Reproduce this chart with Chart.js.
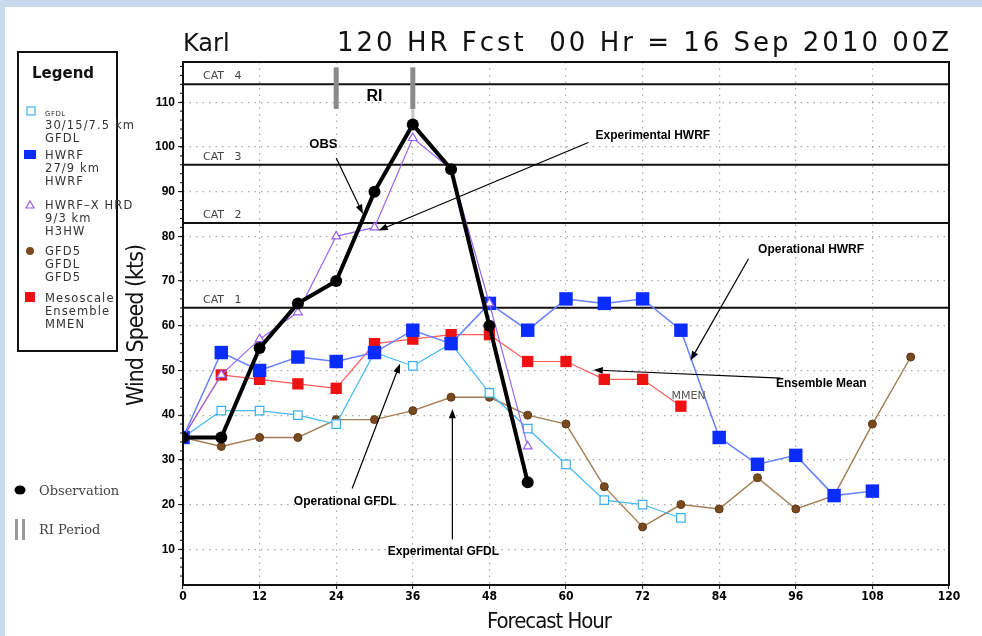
<!DOCTYPE html>
<html>
<head>
<meta charset="utf-8">
<script src="https://cdn.jsdelivr.net/npm/chart.js@4.4.1/dist/chart.umd.min.js"></script>
<style>
  html, body { margin: 0; padding: 0; background: #fff; }
  canvas { display: block; }
</style>
</head>
<body>
<canvas id="wind-chart" width="982" height="636"></canvas>
<script>
// forecast hours, every 6 h
const hours = [0, 6, 12, 18, 24, 30, 36, 42, 48, 54, 60, 66, 72, 78, 84, 90, 96, 102, 108, 114];

const obs  = [35, 35, 55, 65, 70, 90, 105, 95, 60, 25];
const hwrf = [35, 54, 50, 53, 52, 54, 59, 56, 65, 59, 66, 65, 66, 59, 35, 29, 31, 22, 23];
const gfdl = [35, 41, 41, 40, 38, 54, 51, 56, 45, 37, 29, 21, 20, 17];
const h3hw = [35, 49, 57, 63, 80, 82, 102, 95, 65, 33];
const gfd5 = [35, 33, 35, 35, 39, 39, 41, 44, 44, 40, 38, 24, 15, 20, 19, 26, 19, 22, 38, 53];
const mmen = [35, 49, 48, 47, 46, 56, 57, 58, 58, 52, 52, 48, 48, 42];

const xTicks = [0, 12, 24, 36, 48, 60, 72, 84, 96, 108, 120];
const xTickLabels = ["0", "12", "24", "36", "48", "60", "72", "84", "96", "108", "120"];
const yTicks = [10, 20, 30, 40, 50, 60, 70, 80, 90, 100, 110];

const catLevels = [64, 83, 96, 114];
const catLabels = ["CAT   1", "CAT   2", "CAT   3", "CAT   4"];
const riHours = [24, 36];

// callouts: text, text position, arrow start, arrow tip (hours, kts)
const notes = [
  { text: "OBS", at: [22.0, 100.5], from: [24.0, 97.5], to: [28.2, 85.0] },
  { text: "Experimental HWRF", at: [73.6, 102.5], from: [63.5, 101.0], to: [30.6, 81.3] },
  { text: "Operational HWRF", at: [98.4, 77.0], from: [88.6, 75.0], to: [79.5, 52.2] },
  { text: "Ensemble Mean", at: [100.0, 47.0], from: [93.6, 48.3], to: [64.3, 50.1] },
  { text: "Operational GFDL", at: [25.4, 20.6], from: [26.5, 23.6], to: [34.0, 51.5] },
  { text: "Experimental GFDL", at: [40.8, 9.5], from: [42.2, 12.2], to: [42.2, 41.4] }
];

function pts(vals) {
  return vals.map((v, i) => ({ x: hours[i], y: v }));
}

// spread text to a given width with letter spacing
function spacedText(ctx, text, x, y, w) {
  ctx.save();
  ctx.textAlign = "left";
  if ("letterSpacing" in ctx) {
    ctx.letterSpacing = "0px";
    const m = ctx.measureText(text).width;
    ctx.letterSpacing = ((w - m) / (text.length - 1)).toFixed(2) + "px";
    ctx.fillText(text, x, y);
  } else {
    const m = ctx.measureText(text).width;
    ctx.translate(x, y);
    ctx.scale(w / m, 1);
    ctx.fillText(text, 0, 0);
  }
  ctx.restore();
}

function arrow(ctx, x1, y1, x2, y2) {
  const a = Math.atan2(y2 - y1, x2 - x1);
  ctx.beginPath();
  ctx.moveTo(x1, y1);
  ctx.lineTo(x2 - 6 * Math.cos(a), y2 - 6 * Math.sin(a));
  ctx.stroke();
  ctx.beginPath();
  ctx.moveTo(x2, y2);
  ctx.lineTo(x2 - 10 * Math.cos(a - 0.35), y2 - 10 * Math.sin(a - 0.35));
  ctx.lineTo(x2 - 10 * Math.cos(a + 0.35), y2 - 10 * Math.sin(a + 0.35));
  ctx.closePath();
  ctx.fill();
}

const background = {
  id: "background",
  beforeDraw(chart) {
    const c = chart.ctx;
    c.save();
    c.fillStyle = "#fff";
    c.fillRect(0, 0, chart.width, chart.height);
    c.fillStyle = "#c9daee";
    c.fillRect(0, 0, chart.width, 7);
    c.fillRect(0, 0, 5, chart.height);
    c.restore();
  }
};

const overlays = {
  id: "overlays",
  beforeDatasetsDraw(chart) {
    const c = chart.ctx, xs = chart.scales.x, ys = chart.scales.y, a = chart.chartArea;
    c.save();
    // category lines
    c.strokeStyle = "#111";
    c.lineWidth = 2;
    c.font = "11px 'DejaVu Sans', sans-serif";
    c.fillStyle = "#444";
    catLevels.forEach((lv, i) => {
      const y = ys.getPixelForValue(lv);
      c.beginPath();
      c.moveTo(a.left, y);
      c.lineTo(a.right, y);
      c.stroke();
      c.fillText(catLabels[i], a.left + 20, y - 5);
    });
    // RI period bars
    c.fillStyle = "#8a8a8a";
    riHours.forEach(h => {
      const x = xs.getPixelForValue(h);
      const top = ys.getPixelForValue(117.8);
      c.fillRect(x - 2.5, top, 5, ys.getPixelForValue(108.5) - top);
    });
    c.fillStyle = "#c8c8c8";
    const x36 = xs.getPixelForValue(riHours[1]);
    c.fillRect(x36 - 1.5, ys.getPixelForValue(108.5), 3, ys.getPixelForValue(104.5) - ys.getPixelForValue(108.5));
    c.fillStyle = "#000";
    c.font = "bold 16px 'Liberation Sans', Arial, sans-serif";
    c.textAlign = "center";
    c.fillText("RI", xs.getPixelForValue(30), ys.getPixelForValue(110.3));
    c.restore();
  },
  afterDraw(chart) {
    const c = chart.ctx, xs = chart.scales.x, ys = chart.scales.y, a = chart.chartArea;
    c.save();
    // frame
    c.strokeStyle = "#111";
    c.lineWidth = 2;
    c.strokeRect(a.left, a.top, a.right - a.left, a.bottom - a.top);
    // minor ticks on y spine
    c.lineWidth = 1;
    for (let v = 4; v <= 118; v += 2) {
      const y = ys.getPixelForValue(v);
      c.beginPath();
      c.moveTo(a.left - 3, y);
      c.lineTo(a.left, y);
      c.stroke();
    }
    // callouts
    c.fillStyle = "#000";
    c.strokeStyle = "#000";
    c.lineWidth = 1.2;
    c.textAlign = "center";
    c.textBaseline = "middle";
    notes.forEach(n => {
      c.font = n.text === "OBS" ? "bold 13px 'Liberation Sans', Arial, sans-serif" : "bold 12px 'Liberation Sans', Arial, sans-serif";
      c.fillText(n.text, xs.getPixelForValue(n.at[0]), ys.getPixelForValue(n.at[1]));
      arrow(c, xs.getPixelForValue(n.from[0]), ys.getPixelForValue(n.from[1]),
               xs.getPixelForValue(n.to[0]), ys.getPixelForValue(n.to[1]));
    });
    c.fillStyle = "#555";
    c.font = "11px 'DejaVu Sans', sans-serif";
    c.fillText("MMEN", xs.getPixelForValue(79.2), ys.getPixelForValue(44.2));

    // titles
    c.textBaseline = "alphabetic";
    c.textAlign = "left";
    c.fillStyle = "#111";
    c.font = "24px 'DejaVu Sans', sans-serif";
    c.fillText("Karl", 183, 51);
    c.font = "26px 'DejaVu Sans', sans-serif";
    spacedText(c, "120 HR Fcst  00 Hr = 16 Sep 2010 00Z", 337, 51, 612);
    c.font = "22px 'DejaVu Sans Condensed', 'Liberation Sans Narrow', sans-serif";
    spacedText(c, "Forecast Hour", 487, 628, 125);
    c.save();
    c.translate(143, 406);
    c.rotate(-Math.PI / 2);
    c.font = "23px 'DejaVu Sans Condensed', 'Liberation Sans Narrow', sans-serif";
    spacedText(c, "Wind Speed (kts)", 0, 0, 162);
    c.restore();

    // legend box
    c.strokeStyle = "#111";
    c.lineWidth = 2;
    c.strokeRect(18, 52, 99, 299);
    c.fillStyle = "#111";
    c.font = "bold 15px 'DejaVu Sans', sans-serif";
    c.textAlign = "left";
    c.fillText("Legend", 32, 78);
    const items = [
      { y: 112, lines: ["GFDL", "30/15/7.5 km", "GFDL"] },
      { y: 155, lines: ["HWRF", "27/9 km", "HWRF"] },
      { y: 205, lines: ["HWRF\u2013X HRD", "9/3 km", "H3HW"] },
      { y: 251, lines: ["GFD5", "GFDL", "GFD5"] },
      { y: 298, lines: ["Mesoscale", "Ensemble", "MMEN"] }
    ];
    c.fillStyle = "#333";
    items.forEach((it, k) => {
      it.lines.forEach((t, j) => {
        const tiny = k === 0 && j === 0;
        c.font = tiny ? "7px 'DejaVu Sans', sans-serif" : "11.5px 'DejaVu Sans', sans-serif";
        if ("letterSpacing" in c) c.letterSpacing = tiny ? "0.5px" : "1.1px";
        c.fillText(t, 45, it.y + 4 + j * 13);
      });
    });
    if ("letterSpacing" in c) c.letterSpacing = "0px";
    // legend symbols
    c.lineWidth = 1.2;
    c.strokeStyle = "#3cb0ee";
    c.strokeRect(27, 107, 8, 8);
    c.fillStyle = "#0a2cff";
    c.fillRect(24, 150, 12, 9);
    c.strokeStyle = "#9a5cf0";
    c.beginPath();
    c.moveTo(30, 201); c.lineTo(34, 208); c.lineTo(26, 208); c.closePath();
    c.stroke();
    c.fillStyle = "#7a4a1e";
    c.beginPath(); c.arc(30, 251, 4, 0, Math.PI * 2); c.fill();
    c.fillStyle = "#ee1111";
    c.fillRect(25, 292, 10, 10);
    // observation / RI period keys
    c.fillStyle = "#000";
    c.beginPath(); c.ellipse(20, 490, 5.5, 4.5, 0, 0, Math.PI * 2); c.fill();
    c.fillStyle = "#999";
    c.fillRect(15, 519, 3, 21);
    c.fillRect(22, 519, 3, 21);
    c.fillStyle = "#444";
    c.font = "13px 'DejaVu Serif', serif";
    c.fillText("Observation", 39, 495);
    c.fillText("RI Period", 39, 534);
    c.restore();
  }
};

const ctx = document.getElementById("wind-chart").getContext("2d");
const chart = new Chart(ctx, {
  type: "line",
  data: {
    datasets: [
      { label: "Observation", data: pts(obs), borderColor: "#000", backgroundColor: "#000",
        borderWidth: 4, pointStyle: "circle", pointRadius: 6, pointBorderWidth: 0 },
      { label: "H3HW", data: pts(h3hw), borderColor: "#9966ee", backgroundColor: "#fff",
        borderWidth: 1.2, pointStyle: "triangle", pointRadius: 5, pointBorderWidth: 1.2, pointBorderColor: "#9a5cf0" },
      { label: "HWRF", data: pts(hwrf), borderColor: "#6680ff", backgroundColor: "#0a2cff",
        borderWidth: 1.5, pointStyle: "rect", pointRadius: 9.5, pointBorderWidth: 0 },
      { label: "MMEN", data: pts(mmen), borderColor: "#ff5a5a", backgroundColor: "#ee1111",
        borderWidth: 1.2, pointStyle: "rect", pointRadius: 8, pointBorderWidth: 0 },
      { label: "GFDL", data: pts(gfdl), borderColor: "#44b8f0", backgroundColor: "#fff",
        borderWidth: 1.2, pointStyle: "rect", pointRadius: 6, pointBorderWidth: 1.2, pointBorderColor: "#3cb0ee" },
      { label: "GFD5", data: pts(gfd5), borderColor: "#a37c52", backgroundColor: "#7a4a1e",
        borderWidth: 1.4, pointStyle: "circle", pointRadius: 4, pointBorderWidth: 1, pointBorderColor: "#5a3a1a" }
    ]
  },
  options: {
    responsive: false,
    animation: false,
    events: [],
    layout: { padding: { left: 0, right: 33, top: 62, bottom: 0 } },
    plugins: { legend: { display: false }, tooltip: { enabled: false }, title: { display: false } },
    scales: {
      x: {
        type: "linear", min: 0, max: 120,
        afterBuildTicks: s => { s.ticks = xTicks.map(v => ({ value: v })); },
        afterFit: s => { s.height = 51; },
        grid: { color: "#aaa", lineWidth: 1.2, drawTicks: true, tickLength: 4, tickColor: "#111", tickWidth: 1 },
        border: { display: false, dash: [1.5, 5] },
        ticks: {
          color: "#000", padding: 1, maxRotation: 0, autoSkip: false,
          font: { family: "'Liberation Sans Narrow', 'DejaVu Sans Condensed', Arial", size: 12, weight: "bold" },
          callback: (v) => xTickLabels[xTicks.indexOf(v)]
        }
      },
      y: {
        type: "linear", min: 2, max: 119,
        afterBuildTicks: s => { s.ticks = yTicks.map(v => ({ value: v })); },
        afterFit: s => { s.width = 183; },
        grid: { color: "#aaa", lineWidth: 1.2, drawTicks: true, tickLength: 5, tickColor: "#111", tickWidth: 1 },
        border: { display: false, dash: [1.5, 5] },
        ticks: {
          color: "#000", padding: 3,
          font: { family: "'Liberation Sans', Arial", size: 12, weight: "bold" }
        }
      }
    }
  },
  plugins: [background, overlays]
});
</script>
</body>
</html>
